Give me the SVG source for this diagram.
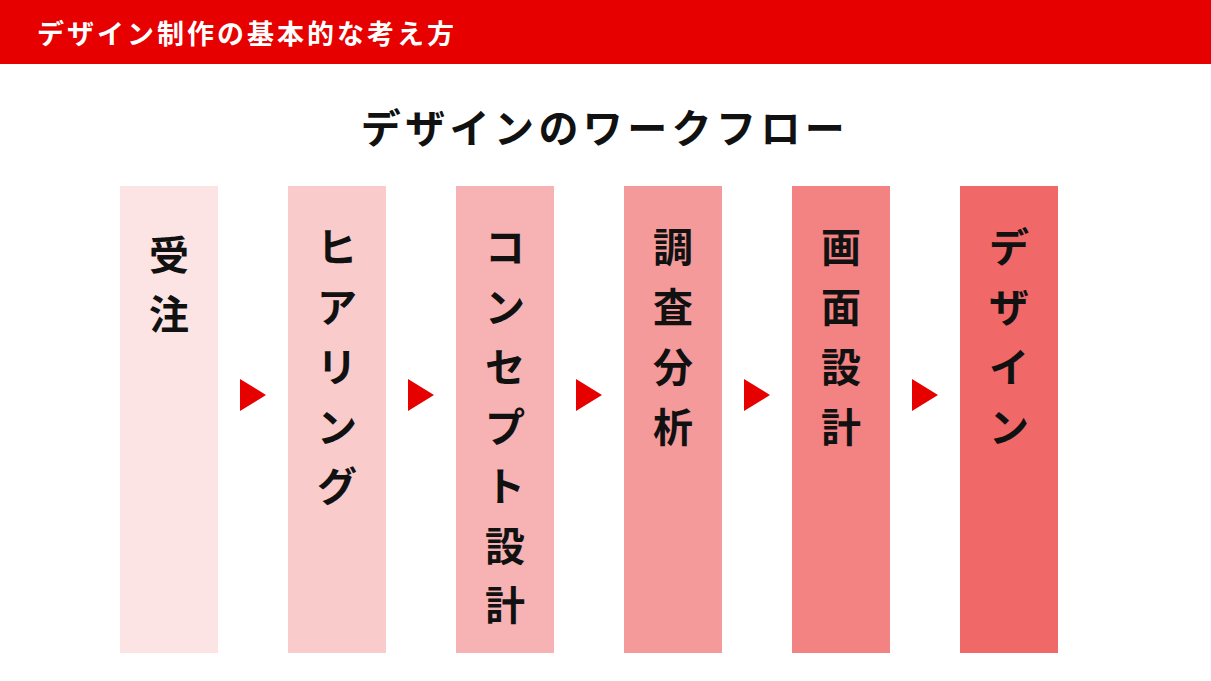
<svg xmlns="http://www.w3.org/2000/svg" width="1211" height="681" viewBox="0 0 1211 681">
<style>
.hdr{font-family:"Noto Sans CJK JP","Noto Sans",sans-serif;font-size:27px;font-weight:700;fill:#fff;letter-spacing:3px}
.ttl{font-family:"Noto Sans CJK JP","Noto Sans",sans-serif;font-size:40px;font-weight:700;fill:#111;text-anchor:middle;letter-spacing:4.4px}
.lbl{font-family:"Noto Sans CJK JP","Noto Sans",sans-serif;font-size:40px;font-weight:700;fill:#111;text-anchor:middle;dominant-baseline:central}
.arr{fill:#e60000}
</style>
<rect x="0" y="0" width="1211" height="681" fill="#fff"/>
<g id="header">
<rect x="0" y="0" width="1211" height="64" fill="#e60000"/>
<text class="hdr" x="37" y="44">デザイン制作の基本的な考え方</text>
</g>
<g id="title"><text class="ttl" x="605" y="143">デザインのワークフロー</text></g>
<g id="node1">
<rect x="120" y="186" width="98" height="467" fill="#fce4e4"/>
<text class="lbl" x="169" y="253">受</text><text class="lbl" x="169" y="312">注</text>
</g>
<g id="node2">
<rect x="288" y="186" width="98" height="467" fill="#f9cbcb"/>
<text class="lbl" x="337" y="245">ヒ</text><text class="lbl" x="337" y="305">ア</text><text class="lbl" x="337" y="365">リ</text><text class="lbl" x="337" y="425">ン</text><text class="lbl" x="337" y="484">グ</text>
</g>
<g id="node3">
<rect x="456" y="186" width="98" height="467" fill="#f7b3b3"/>
<text class="lbl" x="505" y="245">コ</text><text class="lbl" x="505" y="305">ン</text><text class="lbl" x="505" y="365">セ</text><text class="lbl" x="505" y="425">プ</text><text class="lbl" x="505" y="484">ト</text><text class="lbl" x="505" y="544">設</text><text class="lbl" x="505" y="603">計</text>
</g>
<g id="node4">
<rect x="624" y="186" width="98" height="467" fill="#f59a9a"/>
<text class="lbl" x="673" y="245">調</text><text class="lbl" x="673" y="305">査</text><text class="lbl" x="673" y="365">分</text><text class="lbl" x="673" y="425">析</text>
</g>
<g id="node5">
<rect x="792" y="186" width="98" height="467" fill="#f38282"/>
<text class="lbl" x="841" y="245">画</text><text class="lbl" x="841" y="305">面</text><text class="lbl" x="841" y="365">設</text><text class="lbl" x="841" y="425">計</text>
</g>
<g id="node6">
<rect x="960" y="186" width="98" height="467" fill="#f16868"/>
<text class="lbl" x="1009" y="245">デ</text><text class="lbl" x="1009" y="305">ザ</text><text class="lbl" x="1009" y="365">イ</text><text class="lbl" x="1009" y="425">ン</text>
</g>
<g id="connectors">
<polygon class="arr" points="240,379 266,395 240,411"/>
<polygon class="arr" points="408,379 434,395 408,411"/>
<polygon class="arr" points="576,379 602,395 576,411"/>
<polygon class="arr" points="744,379 770,395 744,411"/>
<polygon class="arr" points="912,379 938,395 912,411"/>
</g>
</svg>
